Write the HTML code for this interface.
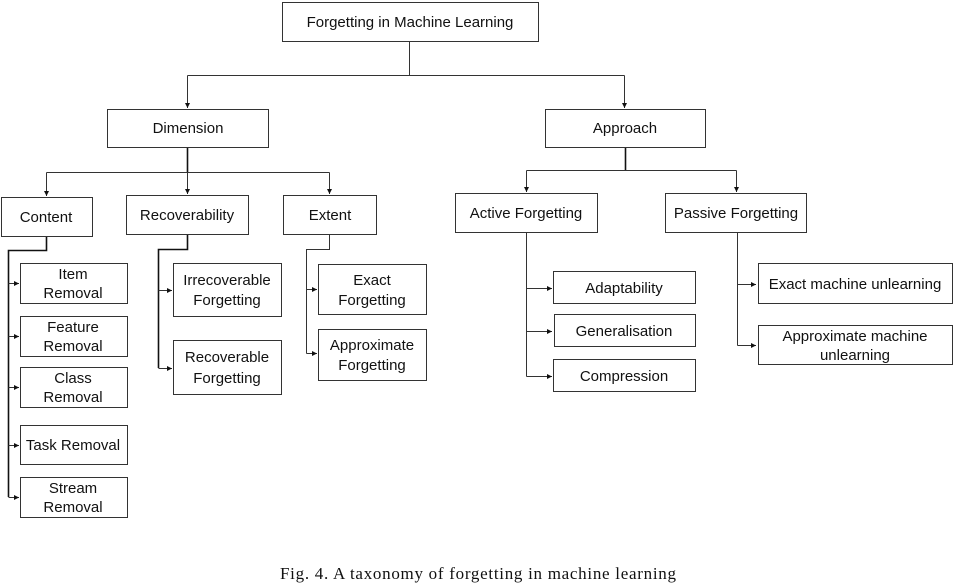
<!DOCTYPE html>
<html><head><meta charset="utf-8"><style>
html,body{margin:0;padding:0;background:#fff;}
svg{display:block;}
text{font-family:"Liberation Sans",sans-serif;font-size:15px;fill:#111;text-anchor:middle;}
rect{fill:#fff;stroke:#333;stroke-width:1;}
.l{fill:none;stroke:#333;stroke-width:1;}
.b{fill:none;stroke:#111;stroke-width:1.6;}
</style></head><body>
<svg width="955" height="586" viewBox="0 0 955 586" xmlns="http://www.w3.org/2000/svg">
<defs><marker id="a" markerWidth="6" markerHeight="6" refX="5" refY="3" orient="auto" markerUnits="userSpaceOnUse"><path d="M0,0.5 L5,3 L0,5.5z" fill="#111"/></marker></defs>
<path class="l" d="M409.5,42 V75.5 M187.5,75.5 H624.5"/>
<path class="l" d="M187.5,75.5 V108" marker-end="url(#a)"/>
<path class="l" d="M624.5,75.5 V108" marker-end="url(#a)"/>
<path class="b" d="M187.5,148 V172"/>
<path class="l" d="M46.5,172.5 H329.5"/>
<path class="l" d="M46.5,172.5 V196" marker-end="url(#a)"/>
<path class="l" d="M187.5,172.5 V194" marker-end="url(#a)"/>
<path class="l" d="M329.5,172.5 V194" marker-end="url(#a)"/>
<path class="b" d="M625.5,148 V170"/>
<path class="l" d="M526.5,170.5 H736.5"/>
<path class="l" d="M526.5,170.5 V192" marker-end="url(#a)"/>
<path class="l" d="M736.5,170.5 V192" marker-end="url(#a)"/>
<path class="b" d="M46.5,236 V250.5 H8.5 V497"/>
<path class="l" d="M8.5,283.5 H19" marker-end="url(#a)"/>
<path class="l" d="M8.5,336.5 H19" marker-end="url(#a)"/>
<path class="l" d="M8.5,387.5 H19" marker-end="url(#a)"/>
<path class="l" d="M8.5,445.5 H19" marker-end="url(#a)"/>
<path class="l" d="M8.5,497.5 H19" marker-end="url(#a)"/>
<path class="b" d="M187.5,235 V249.5 H158.5 V368"/>
<path class="l" d="M158.5,290.5 H172" marker-end="url(#a)"/>
<path class="l" d="M158.5,368.5 H172" marker-end="url(#a)"/>
<path class="l" d="M329.5,235 V249.5 H306.5 V353.5"/>
<path class="l" d="M306.5,289.5 H317" marker-end="url(#a)"/>
<path class="l" d="M306.5,353.5 H317" marker-end="url(#a)"/>
<path class="l" d="M526.5,233 V376.5"/>
<path class="l" d="M526.5,288.5 H552" marker-end="url(#a)"/>
<path class="l" d="M526.5,331.5 H552" marker-end="url(#a)"/>
<path class="l" d="M526.5,376.5 H552" marker-end="url(#a)"/>
<path class="l" d="M737.5,233 V345.5"/>
<path class="l" d="M737.5,284.5 H756" marker-end="url(#a)"/>
<path class="l" d="M737.5,345.5 H756" marker-end="url(#a)"/>
<rect x="282.5" y="2.5" width="256" height="39"/><text x="410" y="27">Forgetting in Machine Learning</text>
<rect x="107.5" y="109.5" width="161" height="38"/><text x="188" y="133">Dimension</text>
<rect x="545.5" y="109.5" width="160" height="38"/><text x="625" y="133">Approach</text>
<rect x="1.5" y="197.5" width="91" height="39"/><text x="46" y="222">Content</text>
<rect x="126.5" y="195.5" width="122" height="39"/><text x="187" y="220">Recoverability</text>
<rect x="283.5" y="195.5" width="93" height="39"/><text x="330" y="220">Extent</text>
<rect x="455.5" y="193.5" width="142" height="39"/><text x="526" y="218">Active Forgetting</text>
<rect x="665.5" y="193.5" width="141" height="39"/><text x="736" y="218">Passive Forgetting</text>
<rect x="20.5" y="263.5" width="107" height="40"/><text x="73" y="279">Item</text><text x="73" y="298">Removal</text>
<rect x="20.5" y="316.5" width="107" height="40"/><text x="73" y="332">Feature</text><text x="73" y="351">Removal</text>
<rect x="20.5" y="367.5" width="107" height="40"/><text x="73" y="383">Class</text><text x="73" y="402">Removal</text>
<rect x="20.5" y="425.5" width="107" height="39"/><text x="73" y="450">Task Removal</text>
<rect x="20.5" y="477.5" width="107" height="40"/><text x="73" y="493">Stream</text><text x="73" y="512">Removal</text>
<rect x="173.5" y="263.5" width="108" height="53"/><text x="227" y="285">Irrecoverable</text><text x="227" y="305">Forgetting</text>
<rect x="173.5" y="340.5" width="108" height="54"/><text x="227" y="362">Recoverable</text><text x="227" y="383">Forgetting</text>
<rect x="318.5" y="264.5" width="108" height="50"/><text x="372" y="285">Exact</text><text x="372" y="305">Forgetting</text>
<rect x="318.5" y="329.5" width="108" height="51"/><text x="372" y="350">Approximate</text><text x="372" y="370">Forgetting</text>
<rect x="553.5" y="271.5" width="142" height="32"/><text x="624" y="293">Adaptability</text>
<rect x="554.5" y="314.5" width="141" height="32"/><text x="624" y="336">Generalisation</text>
<rect x="553.5" y="359.5" width="142" height="32"/><text x="624" y="381">Compression</text>
<rect x="758.5" y="263.5" width="194" height="40"/><text x="855" y="289">Exact machine unlearning</text>
<rect x="758.5" y="325.5" width="194" height="39"/><text x="855" y="341">Approximate machine</text><text x="855" y="360">unlearning</text>
<text x="280" y="579" textLength="396" lengthAdjust="spacing" style="font-family:'Liberation Serif',serif;font-size:17px;text-anchor:start;">Fig. 4.  A taxonomy of forgetting in machine learning</text>
</svg>
</body></html>
